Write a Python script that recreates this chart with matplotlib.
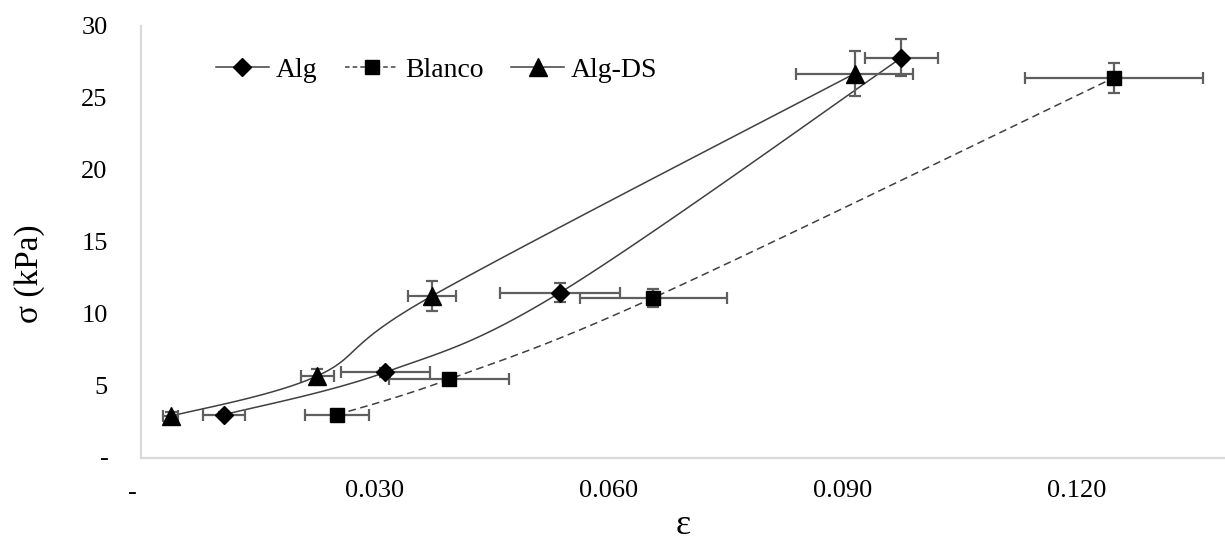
import matplotlib
matplotlib.use('Agg')
import matplotlib.pyplot as plt
import numpy as np
from matplotlib.lines import Line2D

plt.rcParams['font.family'] = ['Liberation Serif', 'DejaVu Serif']

# datos
alg_x = [0.0106, 0.0313, 0.0537, 0.0975]
alg_y = [3.0, 5.95, 11.48, 27.8]
alg_xerr = [0.0027, 0.0057, 0.0077, 0.0047]
alg_yerr = [0.2, 0.3, 0.66, 1.3]

blanco_x = [0.0251, 0.0395, 0.0657, 0.1247]
blanco_y = [3.0, 5.47, 11.13, 26.4]
blanco_xerr = [0.0041, 0.0077, 0.0094, 0.0114]
blanco_yerr = [0.2, 0.3, 0.64, 1.05]

ds_x = [0.0038, 0.0226, 0.0373, 0.0915]
ds_y = [2.9, 5.7, 11.25, 26.7]
ds_xerr = [0.001, 0.0021, 0.0031, 0.0075]
ds_yerr = [0.3, 0.5, 1.06, 1.54]

xticks = [0.03, 0.06, 0.09, 0.12]
xtick_labels = ['0.030', '0.060', '0.090', '0.120']
yticks = [5, 10, 15, 20, 25, 30]
ytick_labels = ['5', '10', '15', '20', '25', '30']


def smooth(xs, ys, n=40):
    # curva suavizada tipo Excel (Bezier / Catmull-Rom)
    P = np.column_stack([xs, ys]).astype(float)
    out = []
    for i in range(len(P) - 1):
        p0 = P[i - 1] if i > 0 else P[i]
        p1 = P[i]
        p2 = P[i + 1]
        p3 = P[i + 2] if i + 2 < len(P) else P[i + 1]
        c1 = p1 + (p2 - p0) / 6
        c2 = p2 - (p3 - p1) / 6
        t = np.linspace(0, 1, n)[:, None]
        seg = (1 - t)**3 * p1 + 3 * (1 - t)**2 * t * c1 + 3 * (1 - t) * t**2 * c2 + t**3 * p2
        out.append(seg)
    return np.vstack(out)


fig = plt.figure(figsize=(12.25, 5.4), dpi=100)
ax = fig.add_axes([141 / 1225, 82 / 540, 1092 / 1225, 432 / 540])

line_c = '#404040'
err_c = '#5f5f5f'

series = [
    (alg_x, alg_y, alg_xerr, alg_yerr, 'D', 8.8, '-'),
    (blanco_x, blanco_y, blanco_xerr, blanco_yerr, 's', 9.5, (0, (5, 3))),
    (ds_x, ds_y, ds_xerr, ds_yerr, '^', 13, '-'),
]

for xs, ys, xe, ye, mk, ms, ls in series:
    c = smooth(xs, ys)
    ax.plot(c[:, 0], c[:, 1], color=line_c, lw=1.1, linestyle=ls, zorder=2)
    ax.errorbar(xs, ys, xerr=xe, yerr=ye, fmt='none', ecolor=err_c,
                elinewidth=1.6, capsize=4, capthick=1.6, zorder=3)
    ax.plot(xs, ys, linestyle='none', marker=mk, markersize=ms,
            color='black', zorder=4)

ax.set_xlim(0, 0.14)
ax.set_ylim(0, 30)

ax.set_xticks(xticks)
ax.set_xticklabels(xtick_labels)
ax.set_yticks(yticks)
ax.set_yticklabels(ytick_labels)
ax.tick_params(axis='both', length=0, labelsize=19)
ax.tick_params(axis='x', pad=16)
ax.tick_params(axis='y', pad=24)

# etiquetas "-" para el cero (formato contable)
ax.annotate('-', xy=(0, 0), xycoords='axes fraction', xytext=(-6, -25),
            textcoords='offset points', ha='center', va='center', fontsize=19)
ax.annotate('-', xy=(0, 0), xycoords='axes fraction', xytext=(-23, -1),
            textcoords='offset points', ha='right', va='center', fontsize=19)

for s in ['top', 'right']:
    ax.spines[s].set_visible(False)
for s in ['left', 'bottom']:
    ax.spines[s].set_color('#d9d9d9')
    ax.spines[s].set_linewidth(1.6)

ax.set_xlabel('ε', fontsize=26)
ax.xaxis.set_label_coords((683 - 141) / 1092, -(525 - 458) / 432)
ax.xaxis.label.set_va('center')
ax.set_ylabel('σ (kPa)', fontsize=24)
ax.yaxis.set_label_coords(-(141 - 30) / 1092, (458 - 274) / 432)
ax.yaxis.label.set_va('center')

handles = [
    Line2D([], [], color=line_c, lw=1.1, marker='D', markersize=8.8,
           markerfacecolor='black', markeredgecolor='black'),
    Line2D([], [], color=line_c, lw=1.1, linestyle=(0, (3, 2)), marker='s',
           markersize=9.5, markerfacecolor='black', markeredgecolor='black'),
    Line2D([], [], color=line_c, lw=1.1, marker='^', markersize=13,
           markerfacecolor='black', markeredgecolor='black'),
]
fig.legend(handles, ['Alg', 'Blanco', 'Alg-DS'], loc='center left',
           bbox_to_anchor=(216 / 1225, 1 - 70 / 540), ncol=3, frameon=False,
           fontsize=20, handlelength=1.9, handletextpad=0.25,
           columnspacing=1.0, borderpad=0, borderaxespad=0)

fig.savefig('out.png', dpi=100)
